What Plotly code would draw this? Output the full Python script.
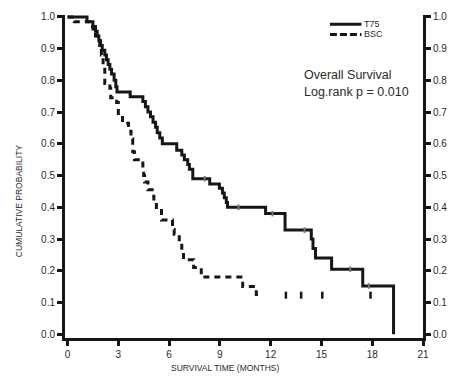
import plotly.graph_objects as go

# ---- data ----
t75_time = [0, 1.15, 1.5, 1.65, 1.75, 1.85, 1.95, 2.05, 2.2, 2.3, 2.4, 2.5, 2.6, 2.75, 2.85,
            2.92, 3.7, 4.45, 4.6, 4.75, 4.9, 5.05, 5.2, 5.3, 5.45, 5.6, 6.45, 6.75, 6.9, 7.1,
            7.2, 7.4, 8.4, 8.97, 9.15, 9.26, 9.38, 9.45, 11.7, 12.85, 14.4, 14.5, 14.65, 15.6,
            17.44, 19.26]
t75_surv = [1.0, 0.985, 0.97, 0.955, 0.94, 0.925, 0.91, 0.895, 0.88, 0.865, 0.85, 0.835, 0.82, 0.80, 0.78,
            0.763, 0.748, 0.733, 0.717, 0.70, 0.685, 0.668, 0.652, 0.635, 0.618, 0.60, 0.58, 0.565, 0.55, 0.535,
            0.52, 0.49, 0.473, 0.46, 0.445, 0.43, 0.415, 0.40, 0.38, 0.328, 0.30, 0.27, 0.24, 0.205,
            0.152, 0.0]

bsc_time = [0, 0.4, 1.3, 1.5, 1.65, 1.8, 1.9, 2.0, 2.1, 2.2, 2.5, 2.55, 2.9, 3.0, 3.25, 3.6, 3.75, 3.85,
            3.95, 4.45, 4.5, 4.55, 4.75, 5.0, 5.1, 5.25, 5.55, 6.2, 6.3, 6.6, 6.75, 6.85, 7.45, 7.9,
            10.35, 11.15, 11.35]
bsc_surv = [1.0, 0.985, 0.97, 0.955, 0.94, 0.925, 0.91, 0.88, 0.85, 0.79, 0.775, 0.745, 0.73, 0.69, 0.665,
            0.64, 0.615, 0.575, 0.55, 0.525, 0.50, 0.48, 0.455, 0.435, 0.415, 0.39, 0.36, 0.33, 0.315, 0.29,
            0.26, 0.235, 0.21, 0.18, 0.15, 0.125, 0.125]

t75_cens_time = [8.1, 10.1, 12.1, 14.0, 16.7, 17.8]
t75_cens_surv = [0.49, 0.40, 0.38, 0.328, 0.205, 0.152]
bsc_cens_time = [12.9, 13.8, 15.05, 17.9]
bsc_cens_surv = [0.123, 0.123, 0.123, 0.123]

x_ticks = [0, 3, 6, 9, 12, 15, 18, 21]
y_ticks = [0.0, 0.1, 0.2, 0.3, 0.4, 0.5, 0.6, 0.7, 0.8, 0.9, 1.0]
y_ticklabels = ["0.0", "0.1", "0.2", "0.3", "0.4", "0.5", "0.6", "0.7", "0.8", "0.9", "1.0"]

series_names = ["T75", "BSC"]
annotation_lines = ["Overall Survival", "Log.rank p = 0.010"]
x_title = "SURVIVAL TIME (MONTHS)"
y_title = "CUMULATIVE PROBABILITY"

assert len(t75_time) == len(t75_surv)
assert len(bsc_time) == len(bsc_surv)

FONT = "Liberation Sans, Arial, sans-serif"
INK = "#161616"
TXT = "#2a2a2a"

fig = go.Figure()
fig.add_trace(go.Scatter(x=t75_time, y=t75_surv, mode="lines", line_shape="hv",
                         line=dict(color=INK, width=3), name=series_names[0]))
fig.add_trace(go.Scatter(x=bsc_time, y=bsc_surv, mode="lines", line_shape="hv",
                         line=dict(color=INK, width=3, dash="6px,5px"), name=series_names[1]))
fig.add_trace(go.Scatter(x=t75_cens_time, y=t75_cens_surv, mode="markers",
                         marker=dict(symbol="line-ns", size=4, line=dict(color="#777", width=2)),
                         showlegend=False))
fig.add_trace(go.Scatter(x=bsc_cens_time, y=bsc_cens_surv, mode="markers",
                         marker=dict(symbol="line-ns", size=5, line=dict(color=INK, width=2.5)),
                         showlegend=False))
# invisible trace to bind the right axis
fig.add_trace(go.Scatter(x=[x_ticks[0]], y=[y_ticks[0]], yaxis="y2", mode="markers",
                         marker=dict(opacity=0), showlegend=False, hoverinfo="skip"))

yr = [-0.012, 1.006]
tickfont = dict(family=FONT, size=10, color=TXT)
fig.update_layout(
    width=464, height=376,
    margin=dict(l=65, r=41, t=15, b=38),
    paper_bgcolor="white", plot_bgcolor="white",
    showlegend=False,
    font=dict(family=FONT, size=10, color=TXT),
    xaxis=dict(range=[-0.15, 21], tickvals=x_ticks, ticktext=[str(v) for v in x_ticks],
               showline=True, linewidth=3, linecolor=INK, ticks="outside", ticklen=5,
               tickwidth=2.5, tickcolor=INK, showgrid=False, zeroline=False, tickfont=tickfont),
    yaxis=dict(range=yr, tickvals=y_ticks, ticktext=y_ticklabels,
               showline=True, linewidth=3, linecolor=INK, ticks="outside", ticklen=5,
               tickwidth=2.5, tickcolor=INK, showgrid=False, zeroline=False, tickfont=tickfont),
    yaxis2=dict(range=yr, tickvals=y_ticks, ticktext=y_ticklabels, overlaying="y", side="right",
                anchor="x", showline=True, linewidth=3, linecolor=INK, ticks="outside", ticklen=5,
                tickwidth=2.5, tickcolor=INK, showgrid=False, zeroline=False, tickfont=tickfont),
)

# legend drawn as small line samples with labels
fig.add_shape(type="line", xref="paper", yref="paper", x0=0.740, x1=0.828, y0=0.971, y1=0.971,
              line=dict(color=INK, width=3))
fig.add_shape(type="line", xref="paper", yref="paper", x0=0.740, x1=0.828, y0=0.940, y1=0.940,
              line=dict(color=INK, width=3, dash="7px,3px"))
fig.add_annotation(xref="paper", yref="paper", x=0.830, y=0.971, text=series_names[0],
                   showarrow=False, xanchor="left", yanchor="middle",
                   font=dict(family=FONT, size=9, color=TXT))
fig.add_annotation(xref="paper", yref="paper", x=0.830, y=0.940, text=series_names[1],
                   showarrow=False, xanchor="left", yanchor="middle",
                   font=dict(family=FONT, size=9, color=TXT))
fig.add_annotation(xref="paper", yref="paper", x=0.662, y=0.814, text=annotation_lines[0],
                   showarrow=False, xanchor="left", yanchor="middle",
                   font=dict(family=FONT, size=12.5, color=TXT))
fig.add_annotation(xref="paper", yref="paper", x=0.662, y=0.762, text=annotation_lines[1],
                   showarrow=False, xanchor="left", yanchor="middle",
                   font=dict(family=FONT, size=12.5, color=TXT))
# axis titles
fig.add_annotation(xref="paper", yref="paper", x=0.447, y=-0.093, text=x_title,
                   showarrow=False, xanchor="center", yanchor="middle",
                   font=dict(family=FONT, size=8.5, color=TXT))
fig.add_annotation(xref="paper", yref="paper", x=-0.128, y=0.424, text=y_title, textangle=-90,
                   showarrow=False, xanchor="center", yanchor="middle",
                   font=dict(family=FONT, size=8.5, color=TXT))

fig.write_html("out.html", config={"displayModeBar": False},
               post_script="document.body.style.margin='0';")
